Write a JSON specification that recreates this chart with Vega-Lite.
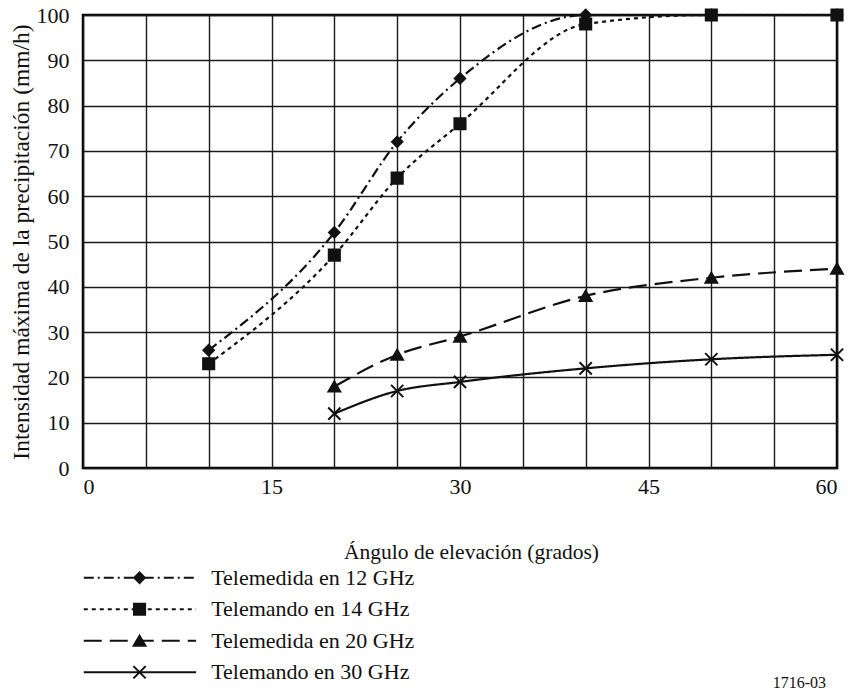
{
  "$schema": "https://vega.github.io/schema/vega-lite/v6.json",
  "background": "white",
  "padding": {"left": 7, "top": 2, "right": 5, "bottom": 5},
  "config": {
    "font": "Liberation Serif, DejaVu Serif, serif",
    "view": {"stroke": "#000", "strokeWidth": 2.5},
    "axis": {
      "labelFont": "Liberation Serif, DejaVu Serif, serif",
      "titleFont": "Liberation Serif, DejaVu Serif, serif",
      "labelFontSize": 22,
      "titleFontSize": 22,
      "labelColor": "#111",
      "titleColor": "#111",
      "titleFontWeight": "normal",
      "domain": false,
      "ticks": false,
      "gridColor": "#1a1a1a",
      "gridWidth": 1.4,
      "gridOpacity": 1
    }
  },
  "datasets": {
    "curves": [
      {"series": "Telemedida en 12 GHz", "angle": 10, "rate": 26},
      {"series": "Telemedida en 12 GHz", "angle": 20, "rate": 52},
      {"series": "Telemedida en 12 GHz", "angle": 25, "rate": 72},
      {"series": "Telemedida en 12 GHz", "angle": 30, "rate": 86},
      {"series": "Telemedida en 12 GHz", "angle": 40, "rate": 100},
      {"series": "Telemedida en 12 GHz", "angle": 50, "rate": 100},
      {"series": "Telemedida en 12 GHz", "angle": 60, "rate": 100},
      {"series": "Telemando en 14 GHz", "angle": 10, "rate": 23},
      {"series": "Telemando en 14 GHz", "angle": 20, "rate": 47},
      {"series": "Telemando en 14 GHz", "angle": 25, "rate": 64},
      {"series": "Telemando en 14 GHz", "angle": 30, "rate": 76},
      {"series": "Telemando en 14 GHz", "angle": 40, "rate": 98},
      {"series": "Telemando en 14 GHz", "angle": 50, "rate": 100},
      {"series": "Telemando en 14 GHz", "angle": 60, "rate": 100},
      {"series": "Telemedida en 20 GHz", "angle": 20, "rate": 18},
      {"series": "Telemedida en 20 GHz", "angle": 25, "rate": 25},
      {"series": "Telemedida en 20 GHz", "angle": 30, "rate": 29},
      {"series": "Telemedida en 20 GHz", "angle": 40, "rate": 38},
      {"series": "Telemedida en 20 GHz", "angle": 50, "rate": 42},
      {"series": "Telemedida en 20 GHz", "angle": 60, "rate": 44},
      {"series": "Telemando en 30 GHz", "angle": 20, "rate": 12},
      {"series": "Telemando en 30 GHz", "angle": 25, "rate": 17},
      {"series": "Telemando en 30 GHz", "angle": 30, "rate": 19},
      {"series": "Telemando en 30 GHz", "angle": 40, "rate": 22},
      {"series": "Telemando en 30 GHz", "angle": 50, "rate": 24},
      {"series": "Telemando en 30 GHz", "angle": 60, "rate": 25}
    ],
    "legendRows": [
      {"series": "Telemedida en 12 GHz"},
      {"series": "Telemando en 14 GHz"},
      {"series": "Telemedida en 20 GHz"},
      {"series": "Telemando en 30 GHz"}
    ],
    "note": [{"label": "1716-03"}]
  },
  "bounds": "flush",
  "spacing": 94,
  "vconcat": [
    {
      "width": 754,
      "height": 453,
      "data": {"name": "curves"},
      "encoding": {
        "x": {
          "field": "angle", "type": "quantitative",
          "scale": {"domain": [0, 60], "nice": false},
          "axis": {
            "values": [0, 5, 10, 15, 20, 25, 30, 35, 40, 45, 50, 55, 60],
            "labelExpr": "datum.value % 15 === 0 ? datum.label : ''",
            "labelPadding": 8,
            "title": "Ángulo de elevación (grados)",
            "titleFontSize": 21.5,
            "titleX": 388,
            "titlePadding": 44
          }
        },
        "y": {
          "field": "rate", "type": "quantitative",
          "scale": {"domain": [0, 100], "nice": false},
          "axis": {
            "values": [0, 10, 20, 30, 40, 50, 60, 70, 80, 90, 100],
            "labelPadding": 14,
            "title": "Intensidad máxima de la precipitación (mm/h)",
            "titleFontSize": 23.5,
            "titlePadding": 3
          }
        }
      },
      "layer": [
        {
          "mark": {"type": "line", "interpolate": "monotone", "color": "#111", "strokeWidth": 2.2},
          "encoding": {
            "detail": {"field": "series"},
            "strokeDash": {
              "field": "series", "type": "nominal",
              "scale": {
                "domain": ["Telemedida en 12 GHz", "Telemando en 14 GHz", "Telemedida en 20 GHz", "Telemando en 30 GHz"],
                "range": [[10, 4, 2, 4], [4, 4], [18, 8], [1, 0]]
              },
              "legend": null
            }
          }
        },
        {
          "mark": {"type": "point", "filled": true, "color": "#111", "stroke": "#111", "strokeWidth": 2, "opacity": 1},
          "encoding": {
            "shape": {
              "field": "series", "type": "nominal",
              "scale": {
                "domain": ["Telemedida en 12 GHz", "Telemando en 14 GHz", "Telemedida en 20 GHz", "Telemando en 30 GHz"],
                "range": ["diamond", "square", "triangle-up", "M-1,-1L1,1M-1,1L1,-1"]
              },
              "legend": null
            },
            "size": {
              "field": "series", "type": "nominal",
              "scale": {
                "domain": ["Telemedida en 12 GHz", "Telemando en 14 GHz", "Telemedida en 20 GHz", "Telemando en 30 GHz"],
                "range": [110, 150, 130, 200]
              },
              "legend": null
            }
          }
        }
      ]
    },
    {
      "width": 754,
      "height": 126,
      "view": {"stroke": null},
      "encoding": {
        "y": {
          "field": "series", "type": "nominal",
          "sort": ["Telemedida en 12 GHz", "Telemando en 14 GHz", "Telemedida en 20 GHz", "Telemando en 30 GHz"],
          "scale": {"type": "point", "padding": 0.5},
          "axis": null
        }
      },
      "layer": [
        {
          "data": {"name": "legendRows"},
          "mark": {"type": "rule", "color": "#111", "strokeWidth": 2.2},
          "encoding": {
            "x": {"datum": 0.01, "type": "quantitative", "scale": {"domain": [0, 10], "nice": false}, "axis": null},
            "x2": {"datum": 1.5},
            "strokeDash": {"field": "series", "type": "nominal", "legend": null}
          }
        },
        {
          "data": {"name": "legendRows"},
          "mark": {"type": "point", "filled": true, "color": "#111", "stroke": "#111", "strokeWidth": 2, "opacity": 1},
          "encoding": {
            "x": {"datum": 0.75, "type": "quantitative"},
            "shape": {"field": "series", "type": "nominal", "legend": null},
            "size": {"field": "series", "type": "nominal", "legend": null}
          }
        },
        {
          "data": {"name": "legendRows"},
          "mark": {"type": "text", "align": "left", "baseline": "middle", "fontSize": 22, "color": "#111", "font": "Liberation Serif, DejaVu Serif, serif"},
          "encoding": {
            "x": {"datum": 1.7, "type": "quantitative"},
            "text": {"field": "series"}
          }
        },
        {
          "data": {"name": "note"},
          "mark": {"type": "text", "align": "center", "baseline": "middle", "fontSize": 16, "dy": 11, "color": "#111", "font": "Liberation Serif, DejaVu Serif, serif"},
          "encoding": {
            "x": {"datum": 9.5, "type": "quantitative"},
            "y": {"datum": "Telemando en 30 GHz"},
            "text": {"field": "label"}
          }
        }
      ]
    }
  ]
}
